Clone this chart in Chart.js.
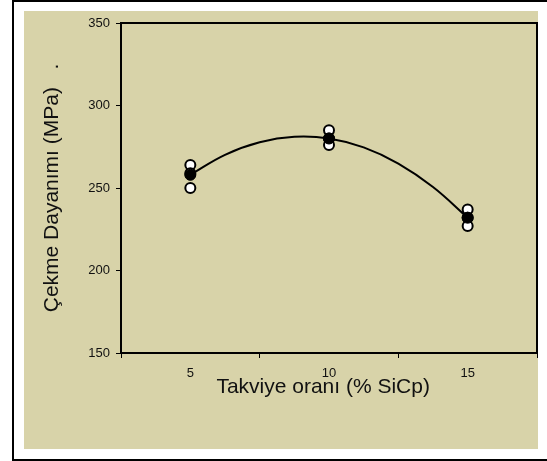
<!DOCTYPE html>
<html>
<head>
<meta charset="utf-8">
<script src="https://cdn.jsdelivr.net/npm/chart.js@4"></script>
<style>
  body { margin: 0; background: #fff; }
  #kutu { width: 547px; height: 461px; }
</style>
</head>
<body>
<div id="kutu"><canvas id="grafik" width="547" height="461"></canvas></div>
<script>
// takviye oranlari (% SiCp)
const oranlar = [5, 10, 15]
// tek tek olcumler (acik daireler)
const olcum1 = [264, 285, 237]
const olcum2 = [259, 280, 232]
const olcum3 = [250, 276, 227]
// ortalama (dolu daire)
const ortalama = [258, 280, 232]
// egri uzerinden okunan degerler
const egriX = [5, 6.25, 7.5, 8.75, 10, 11.25, 12.5, 13.75, 15]
const egriY = [258, 270.1, 277.7, 281, 280, 274.6, 264.8, 250.6, 232]
// eksen etiketleri
const yEtiketler = [150, 200, 250, 300, 350]
const xEtiketler = [5, 10, 15]

const yazi = "'Liberation Sans', Arial, sans-serif"

const noktalar = (xs, ys) => xs.map((x, i) => ({ x: x, y: ys[i] }))

let acikNoktalar = []
for (let i = 0; i < oranlar.length; i++) {
  acikNoktalar.push({ x: oranlar[i], y: olcum1[i] })
  acikNoktalar.push({ x: oranlar[i], y: olcum2[i] })
  acikNoktalar.push({ x: oranlar[i], y: olcum3[i] })
}

const arkaPlan = {
  id: 'arkaPlan',
  beforeDraw(chart) {
    const c = chart.ctx
    c.save()
    c.fillStyle = '#fff'
    c.fillRect(0, 0, chart.width, chart.height)
    c.lineWidth = 2
    c.strokeStyle = '#000'
    c.strokeRect(13, 1, 560, 459)
    c.fillStyle = '#D8D3A9'
    c.fillRect(24, 11, 514, 438)
    c.restore()
  },
  beforeDatasetsDraw(chart) {
    const a = chart.chartArea
    const c = chart.ctx
    c.save()
    c.lineWidth = 2
    c.strokeStyle = '#000'
    c.strokeRect(a.left, a.top, a.right - a.left, a.bottom - a.top)
    c.restore()
  }
}

const ctx = document.getElementById('grafik').getContext('2d')

new Chart(ctx, {
  type: 'scatter',
  data: {
    datasets: [
      {
        label: 'Ortalama',
        data: noktalar(oranlar, ortalama),
        pointRadius: 5.5,
        pointBorderWidth: 1,
        pointBackgroundColor: '#000',
        pointBorderColor: '#000',
        order: 0
      },
      {
        label: 'Olcum',
        data: acikNoktalar,
        pointRadius: 5,
        pointBorderWidth: 2,
        pointBackgroundColor: '#fff',
        pointBorderColor: '#000',
        order: 1
      },
      {
        type: 'line',
        label: 'Egri',
        data: noktalar(egriX, egriY),
        borderColor: '#000',
        borderWidth: 2,
        pointRadius: 0,
        tension: 0.4,
        fill: false,
        order: 2
      }
    ]
  },
  options: {
    responsive: false,
    animation: false,
    layout: { padding: { left: 0, top: 23, right: 10, bottom: 0 } },
    plugins: {
      legend: { display: false },
      tooltip: { enabled: false }
    },
    scales: {
      x: {
        type: 'linear',
        min: 2.5,
        max: 17.5,
        afterFit: (scale) => { scale.height = 108 },
        border: { display: false },
        grid: {
          drawOnChartArea: false,
          drawTicks: true,
          tickLength: 5,
          tickWidth: 1,
          tickColor: (c) => (c.tick && xEtiketler.includes(c.tick.value)) ? 'rgba(0,0,0,0)' : '#000'
        },
        ticks: {
          stepSize: 2.5,
          autoSkip: false,
          maxRotation: 0,
          padding: 8,
          color: '#111',
          font: { family: yazi, size: 13 },
          callback: (v) => xEtiketler.includes(v) ? String(v) : ''
        },
        title: {
          display: true,
          text: 'Takviye oranı (% SiCp)  ',
          color: '#111',
          font: { family: yazi, size: 21 },
          padding: { top: 0, bottom: 61 }
        }
      },
      y: {
        min: 150,
        max: 350,
        afterFit: (scale) => { scale.width = 121 },
        afterBuildTicks: (scale) => { scale.ticks = yEtiketler.map((v) => ({ value: v })) },
        border: { display: false },
        grid: {
          drawOnChartArea: false,
          drawTicks: true,
          tickLength: 5,
          tickWidth: 1,
          tickColor: '#000'
        },
        ticks: {
          padding: 6,
          color: '#111',
          font: { family: yazi, size: 13 }
        },
        title: {
          display: true,
          text: 'Çekme Dayanımı (MPa)   .',
          color: '#111',
          font: { family: yazi, size: 21 },
          padding: { top: 40, bottom: 0 }
        }
      }
    }
  },
  plugins: [arkaPlan]
})
</script>
</body>
</html>
